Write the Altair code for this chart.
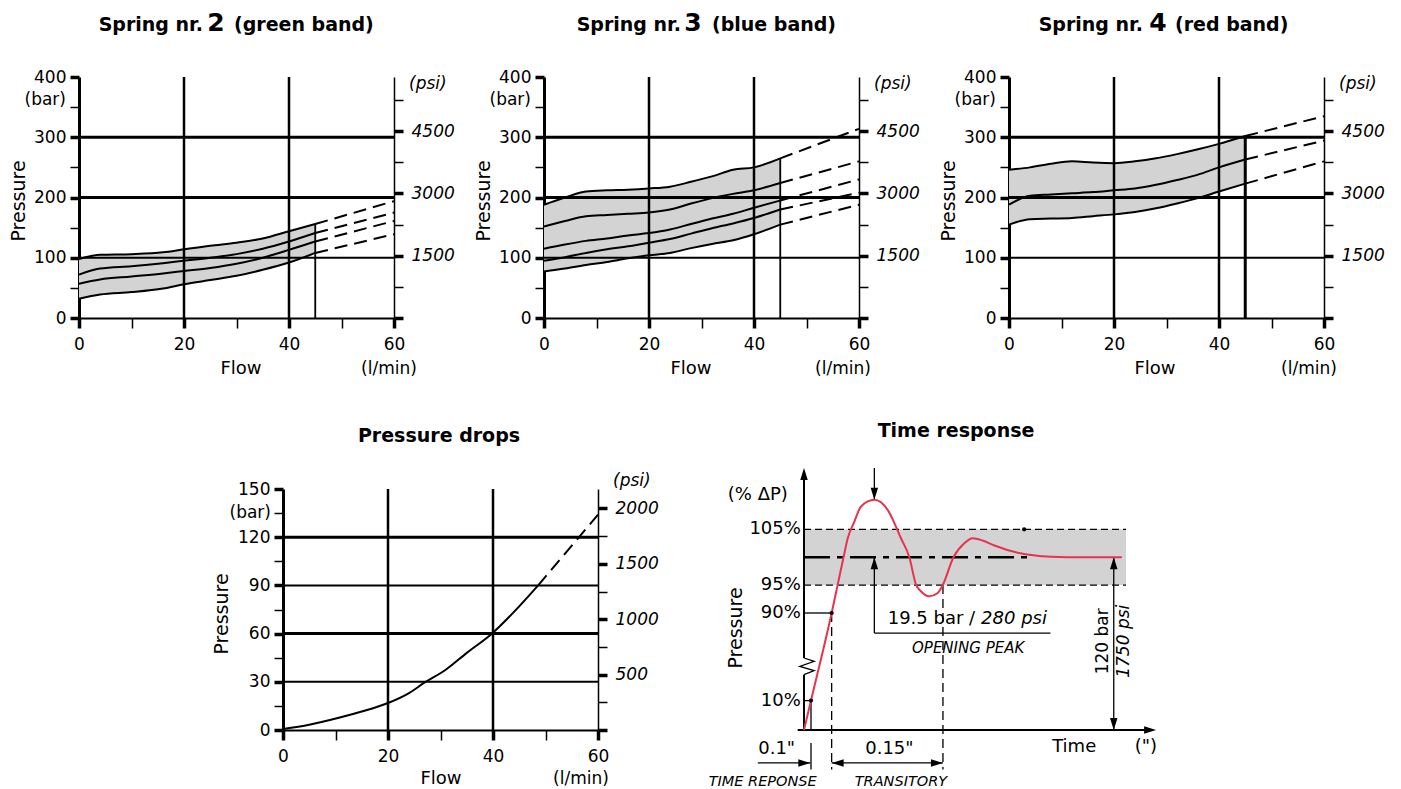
import altair as alt
import pandas as pd

FONT = "DejaVu Sans"
INK = "#000000"
BAND = "#d3d3d3"
RED = "#e8334f"

# ---------------- data: spring characteristic curves (bar vs l/min) ----------------
S2_FLOW = [0, 4, 10, 16, 20, 25, 30, 35, 40, 45]
S2_L1 = [98, 105, 106, 109, 114, 120, 125, 132, 144, 156]
S2_L2 = [72, 82, 86, 91, 95, 100, 106, 115, 127, 141]
S2_L3 = [57, 64, 69, 74, 78, 83, 90, 100, 113, 127]
S2_L4 = [32, 39, 43, 49, 56, 63, 70, 80, 92, 108]
S2_END = [194, 175, 161, 139]

S3_FLOW = [0, 4, 8, 12, 16, 20, 24, 28, 32, 36, 40, 45]
S3_L1 = [188, 200, 210, 212, 213, 215, 218, 226, 235, 246, 250, 265]
S3_L2 = [152, 161, 169, 171, 173, 175, 180, 190, 199, 206, 212, 224]
S3_L3 = [115, 122, 128, 132, 137, 141, 147, 156, 165, 173, 183, 195]
S3_L4 = [95, 101, 108, 114, 119, 125, 131, 140, 149, 157, 166, 180]
S3_L5 = [77, 82, 88, 93, 99, 104, 108, 116, 123, 129, 139, 155]
S3_END = [314, 260, 230, 208, 188]

S4_FLOW = [0, 4, 8, 12, 16, 20, 24, 28, 32, 36, 40, 45]
S4_L1 = [246, 250, 256, 260, 258, 257, 260, 265, 272, 280, 289, 302]
S4_L2 = [188, 203, 205, 207, 209, 212, 215, 221, 229, 238, 250, 263]
S4_L3 = [155, 164, 165, 166, 169, 172, 176, 182, 190, 199, 210, 223]
S4_END = [335, 294.5, 260]

DASH_FLOW = [45, 60]

FLOW_TICKS = [0, 10, 20, 30, 40, 50, 60]
BAR_TICKS = [0, 50, 100, 150, 200, 250, 300, 350, 400]
PSI_TICKS = [0, 750, 1500, 2250, 3000, 3750, 4500, 5250]
BAR_GRID_THIN = [100]
BAR_GRID_THICK = [200, 300]
FLOW_GRID = [20, 40]

# ---------------- data: pressure drops ----------------
PD_FLOW = [0, 5, 11, 15, 20, 24, 27, 31, 35, 40, 44, 48.6]
PD_BAR = [0.6, 3.3, 7.9, 11.5, 16.8, 23, 29.6, 37.5, 48, 60.6, 73.5, 90]
PD_DASH_FLOW = [48.6, 60]
PD_DASH_BAR = [90, 134]
PD_TICKS = [0, 15, 30, 45, 60, 75, 90, 105, 120, 135, 150]
PD_PSI_TICKS = [0, 250, 500, 750, 1000, 1250, 1500, 1750, 2000]
PD_GRID_THIN = [30, 90]
PD_GRID_THICK = [60, 120]

# ---------------- data: time response (schematic, % of set pressure) ----------------
TR_TIME = [0, 2.0, 7.9, 9.6, 11.3, 12.5, 14.4, 16.3, 20.1, 23.9, 27.7, 30.1, 32.0, 33.4,
           35.8, 38.2, 39.7, 42.7, 45.8, 48.2, 51.0, 54.4, 61.1, 70.6, 80.0, 90.8]
TR_PCT = [0, 10, 90, 95, 100, 103.4, 106.4, 109.1, 110.3, 108.5, 103.4, 100, 95.1, 93.9,
          93.0, 93.6, 95.1, 100, 102.5, 103.4, 103.0, 102.1, 100.8, 100.1, 100, 100]
TR_BAND = [[0, 95, 92, 105]]
TR_BAND_EDGES = [[0, 105, 92, 105], [0, 95, 92, 95]]
TR_SETPOINT = [[0, 100, 65.3, 100]]
TR_GUIDES_DASHED = [[7.9, 90, 7.9, -13.4], [39.7, 95, 39.7, -13.4]]
TR_GUIDES_SOLID = [[0, 90, 7.9, 90], [0, 10, 2, 10], [2, 10, 2, 0], [2, -4.4, 2, -13.4]]
TR_AXES = [[0, 48.9, 0, 114], [0, 0, 0, 33.7], [-1.8, 0, 99, 0]]
TR_MEASURE = [[20.1, 116, 20.1, 110.3], [20.1, 100, 20.1, 71.7], [20.1, 71.7, 70.4, 71.7],
              [88.5, 100, 88.5, 0], [-13.2, -11.2, 1.8, -11.2], [7.9, -11.2, 39.7, -11.2]]
TR_ZIGZAG_T = [0, 2.9, -1.2, 2.9, 0]
TR_ZIGZAG_P = [48.9, 45.9, 41.3, 37.4, 33.7]
TR_TIP_UP = [[0, 116], [20.1, 100], [88.5, 100]]
TR_TIP_DOWN = [[20.1, 110.3], [88.5, 0]]
TR_TIP_RIGHT = [[100.6, 0], [1.8, -11.2], [39.7, -11.2]]
TR_TIP_LEFT = [[7.9, -11.2]]
TR_DOTS = [[2, 10], [7.9, 90], [62.9, 105]]
TR_YLABEL_P = [105, 95, 90, 10]
TR_YLABEL_TEXT = ["105%", "95%", "90%", "10%"]

PW, PH = 315, 241
TRW = 413
SPACER_W = 54
TITLE_Y = -46


def cond(test, on, off):
    return {"condition": {"test": test, "value": on}, "value": off}


def axis(**kw):
    base = dict(tickColor=INK, domainColor=INK, labelColor=INK, labelFont=FONT, labelFontSize=17,
                labelFlush=False, labelOverlap=False, grid=False, title=None)
    base.update(kw)
    return alt.Axis(**base)


def flow_x():
    return alt.X("x:Q", scale=alt.Scale(domain=[0, 60], nice=False, zero=False),
                 axis=axis(values=FLOW_TICKS, labelExpr="datum.value % 20 === 0 ? datum.label : ''",
                           tickSize=10, tickWidth=cond("datum.value % 20 === 0", 3.5, 1.5),
                           domainWidth=2, labelPadding=8))


def bar_y(ticks, major, top):
    return alt.Y("y:Q", scale=alt.Scale(domain=[0, top], nice=False, zero=False),
                 axis=axis(values=ticks, labelExpr=f"datum.value % {major} === 0 ? datum.label : ''",
                           tickSize=9, tickWidth=cond(f"datum.value % {major} === 0", 3.5, 1.5),
                           domainWidth=3, labelPadding=4))


def psi_y(ticks, major, top):
    return alt.Y("psi:Q", scale=alt.Scale(domain=[0, top], nice=False, zero=False),
                 axis=axis(orient="right", values=ticks, format="d",
                           labelExpr=f"datum.value % {major} === 0 && datum.value > 0 ? datum.label : ''",
                           tickSize=9, tickWidth=cond(f"datum.value % {major} === 0", 3.5, 1.5),
                           domainWidth=1.5, labelPadding=8, labelFontStyle="italic"))


def txt(s, x, y, size=17, align="center", baseline="middle", weight="normal", style="normal", angle=0):
    return alt.Chart(pd.DataFrame({"s": [s]})).mark_text(
        font=FONT, fontSize=size, align=align, baseline=baseline, fontWeight=weight,
        fontStyle=style, angle=angle, color=INK
    ).encode(text="s:N", x=alt.value(x), y=alt.value(y))


def hrules(vals, width, Y):
    return alt.Chart(pd.DataFrame({"y": vals})).mark_rule(color=INK, strokeWidth=width).encode(
        y=Y, x=alt.value(0), x2=alt.value(PW))


def vrules(vals, width, X):
    return alt.Chart(pd.DataFrame({"x": vals})).mark_rule(color=INK, strokeWidth=width).encode(
        x=X, y=alt.value(0), y2=alt.value(PH))


def spring_panel(flow, lines, ends, v45_w, digit, band_name, tpos, flow_lbl_x, lmin_x):
    X = flow_x()
    Y = bar_y(BAR_TICKS, 100, 400)
    solid = pd.DataFrame([{"line": i, "x": f, "y": v}
                          for i, ys in enumerate(lines) for f, v in zip(flow, ys)])
    dash = pd.DataFrame([{"line": i, "x": f, "y": v}
                         for i, ys in enumerate(lines) for f, v in zip(DASH_FLOW, [ys[-1], ends[i]])])
    band = pd.DataFrame({"x": flow, "y": lines[0], "y2": lines[-1]})
    v45 = pd.DataFrame({"x": [flow[-1]], "y": [0], "y2": [lines[0][-1]]})
    layers = [
        alt.Chart(band).mark_area(color=BAND, interpolate="monotone").encode(x=X, y=Y, y2="y2:Q"),
        hrules(BAR_GRID_THIN, 2, Y),
        hrules(BAR_GRID_THICK, 3, Y),
        vrules(FLOW_GRID, 2.5, X),
        alt.Chart(v45).mark_rule(color=INK, strokeWidth=v45_w).encode(x=X, y=Y, y2="y2:Q"),
        alt.Chart(solid).mark_line(color=INK, strokeWidth=2, interpolate="monotone").encode(
            x=X, y=Y, detail="line:N"),
        alt.Chart(dash).mark_line(color=INK, strokeWidth=2, strokeDash=[13, 7]).encode(
            x=X, y=Y, detail="line:N"),
        txt("Pressure", -60, 124, size=19, angle=270),
        txt("(bar)", -13, 23, align="right"),
        txt("Flow", flow_lbl_x, 292, size=18),
        txt("(l/min)", lmin_x, 292),
        txt("Spring nr.", tpos[0], TITLE_Y, size=19, align="right", baseline="alphabetic", weight="bold"),
        txt(digit, tpos[1], TITLE_Y, size=25, baseline="alphabetic", weight="bold"),
        txt(band_name, tpos[2], TITLE_Y, size=19, align="left", baseline="alphabetic", weight="bold"),
    ]
    psi = alt.Chart(pd.DataFrame({"psi": [5630], "s": ["(psi)"]})).mark_text(
        font=FONT, fontSize=17, fontStyle="italic", align="left", baseline="middle", color=INK
    ).encode(y=psi_y(PSI_TICKS, 1500, 5801.5), x=alt.value(PW + 15), text="s:N")
    return alt.layer(alt.layer(*layers), psi).resolve_scale(y="independent").properties(
        width=PW, height=PH)


s2 = spring_panel(S2_FLOW, [S2_L1, S2_L2, S2_L3, S2_L4], S2_END, 1.8, "2", "(green band)",
                  (124, 137, 155), 162, 310)
s3 = spring_panel(S3_FLOW, [S3_L1, S3_L2, S3_L3, S3_L4, S3_L5], S3_END, 1.8, "3", "(blue band)",
                  (137, 149, 168), 147, 299)
s4 = spring_panel(S4_FLOW, [S4_L1, S4_L2, S4_L3], S4_END, 3, "4", "(red band)",
                  (134, 149, 166), 146, 300)


# ---------------- pressure drops ----------------
def pressure_drop_panel():
    X = flow_x()
    Y = bar_y(PD_TICKS, 30, 150)
    solid = pd.DataFrame({"x": PD_FLOW, "y": PD_BAR})
    dash = pd.DataFrame({"x": PD_DASH_FLOW, "y": PD_DASH_BAR})
    layers = [
        hrules(PD_GRID_THIN, 2, Y),
        hrules(PD_GRID_THICK, 3, Y),
        vrules(FLOW_GRID, 2.5, X),
        alt.Chart(solid).mark_line(color=INK, strokeWidth=2, interpolate="monotone").encode(x=X, y=Y),
        alt.Chart(dash).mark_line(color=INK, strokeWidth=2, strokeDash=[13, 7]).encode(x=X, y=Y),
        txt("Pressure", -61, 125, size=19, angle=270),
        txt("(bar)", -12, 24, align="right"),
        txt("Flow", 158, 290, size=18),
        txt("(l/min)", 298, 290),
        txt("Pressure drops", 156, -47, size=19, baseline="alphabetic", weight="bold"),
    ]
    psi = alt.Chart(pd.DataFrame({"psi": [2250], "s": ["(psi)"]})).mark_text(
        font=FONT, fontSize=17, fontStyle="italic", align="left", baseline="middle", color=INK
    ).encode(y=psi_y(PD_PSI_TICKS, 500, 2175.6), x=alt.value(PW + 15), text="s:N")
    return alt.layer(alt.layer(*layers), psi).resolve_scale(y="independent").properties(
        width=PW, height=PH)


pdrop = pressure_drop_panel()

# ---------------- time response ----------------
TX = alt.X("t:Q", scale=alt.Scale(domain=[-16, 102], nice=False, zero=False), axis=None)
TY = alt.Y("p:Q", scale=alt.Scale(domain=[0, 10, 90, 116], range=[241, 211.6, 124, -21],
                                   nice=False, zero=False), axis=None)


def segs(rows):
    return pd.DataFrame(rows, columns=["t", "p", "t2", "p2"])


def pts(rows):
    return pd.DataFrame(rows, columns=["t", "p"])


def seg_layer(rows, width, dash=None):
    kw = dict(color=INK, strokeWidth=width)
    if dash:
        kw["strokeDash"] = dash
    return alt.Chart(segs(rows)).mark_rule(**kw).encode(x=TX, y=TY, x2="t2:Q", y2="p2:Q")


def tip_layer(rows, path):
    return alt.Chart(pts(rows)).mark_point(shape=path, size=100, filled=True, color=INK,
                                           opacity=1, strokeWidth=0).encode(x=TX, y=TY)


def ttxt(s, t, p, size=18, align="center", style="normal", weight="normal", angle=0):
    return alt.Chart(pd.DataFrame({"s": [s], "t": [t], "p": [p]})).mark_text(
        font=FONT, fontSize=size, align=align, baseline="middle", fontStyle=style,
        fontWeight=weight, angle=angle, color=INK).encode(x=TX, y=TY, text="s:N")


UP = "M0,0L-0.75,2.4L0.75,2.4Z"
DOWN = "M0,0L-0.75,-2.4L0.75,-2.4Z"
RIGHT = "M0,0L-2.4,-0.75L-2.4,0.75Z"
LEFT = "M0,0L2.4,-0.75L2.4,0.75Z"

curve = pd.DataFrame({"t": TR_TIME, "p": TR_PCT})
zig = pd.DataFrame({"t": TR_ZIGZAG_T, "p": TR_ZIGZAG_P, "i": list(range(len(TR_ZIGZAG_T)))})
ylab = pd.DataFrame({"s": TR_YLABEL_TEXT, "p": TR_YLABEL_P, "t": [-0.9] * len(TR_YLABEL_P)})

tr_layers = [
    alt.Chart(segs(TR_BAND)).mark_rect(color=BAND).encode(x=TX, y=TY, x2="t2:Q", y2="p2:Q"),
    seg_layer(TR_BAND_EDGES, 1.2, [7, 4]),
    seg_layer(TR_GUIDES_DASHED, 1.3, [9, 5]),
    seg_layer(TR_SETPOINT, 2.5, [26, 7, 6, 7]),
    seg_layer(TR_GUIDES_SOLID, 1.3),
    seg_layer(TR_AXES, 2),
    seg_layer(TR_MEASURE, 1.3),
    alt.Chart(zig).mark_line(color=INK, strokeWidth=1.3).encode(x=TX, y=TY, order="i:Q"),
    tip_layer(TR_TIP_UP, UP),
    tip_layer(TR_TIP_DOWN, DOWN),
    tip_layer(TR_TIP_RIGHT, RIGHT),
    tip_layer(TR_TIP_LEFT, LEFT),
    alt.Chart(curve).mark_line(color=RED, strokeWidth=2, interpolate="monotone").encode(x=TX, y=TY),
    alt.Chart(pts(TR_DOTS)).mark_circle(size=18, color=INK, opacity=1).encode(x=TX, y=TY),
    alt.Chart(ylab).mark_text(font=FONT, fontSize=18, align="right", baseline="middle",
                              color=INK).encode(x=TX, y=TY, text="s:N"),
    ttxt("(% ΔP)", -13.2, 111.2),
    ttxt("Pressure", -19.4, 76.3, size=19, angle=270),
    ttxt("19.5 bar /", 48.9, 84.2, align="right"),
    ttxt("280 psi", 50.6, 84.2, align="left", style="italic"),
    ttxt("OPENING PEAK", 46.9, 58, size=15, style="italic"),
    ttxt("0.1\"", -7.8, -6.6),
    ttxt("0.15\"", 24.4, -6.6),
    ttxt("TIME REPONSE", -11.8, -17.7, size=14.5, style="italic"),
    ttxt("TRANSITORY", 27.7, -17.7, size=14.5, style="italic"),
    ttxt("Time", 77.2, -5.9),
    ttxt("(\")", 97.7, -5.9),
    ttxt("120 bar", 85.3, 64.2, size=17, angle=270),
    ttxt("1750 psi", 91.5, 64.2, size=17, style="italic", angle=270),
    txt("Time response", 208, -52, size=19, baseline="alphabetic", weight="bold"),
]
tresp = alt.layer(*tr_layers).properties(width=TRW, height=PH)

spacer = alt.Chart(pd.DataFrame({"v": [0]})).mark_point(opacity=0).encode(
    x=alt.X("v:Q", axis=None), y=alt.Y("v:Q", axis=None)).properties(width=SPACER_W, height=PH)

top_row = alt.hconcat(s2, s3, s4, spacing=150, bounds="flush")
bottom_row = alt.hconcat(spacer, pdrop, tresp, spacing=150, bounds="flush")

# nested rows report no height under "flush", so the row gap includes the top row's plot height
chart = alt.vconcat(top_row, bottom_row, spacing=PH + 171, bounds="flush").properties(
    padding={"left": 2, "top": 3, "right": 0, "bottom": 0}, background="white"
).configure_view(stroke=None)

chart.save("out.html", embed_options={"renderer": "svg", "actions": False})
